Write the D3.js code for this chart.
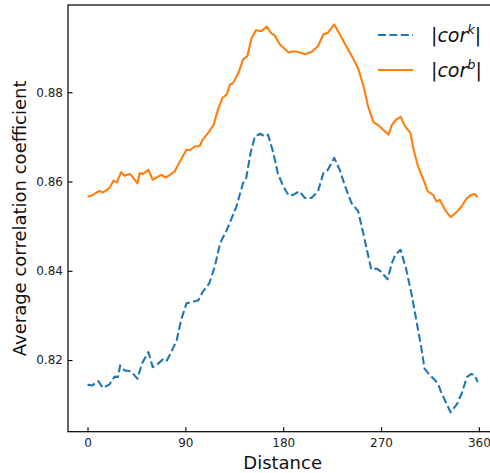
<!DOCTYPE html>
<html>
<head>
<meta charset="utf-8">
<script src="https://cdn.jsdelivr.net/npm/d3@7"></script>
<style>
  body { margin: 0; background: #fff; }
  text { font-family: "DejaVu Sans", sans-serif; }
</style>
</head>
<body>
<div id="chart"></div>
<script>
// Data
const korDist = [0,4,10,14,20,25,28,30,34,39,42,46,50,56,60,65,70,73,77,82,86,91,96,102,106,112,117,122,128,132,137,143,146,150,154,159,163,166,171,175,180,185,189,195,200,206,212,217,221,227,232,237,243,249,253,257,261,266,270,276,280,283,288,293,298,303,307,310,315,320,323,326,329,334,340,344,349,353,356,359]
const korVals = [0.8145,0.8143,0.8153,0.8138,0.8145,0.8163,0.8162,0.8188,0.8177,0.8175,0.8169,0.8158,0.8192,0.8218,0.8184,0.8192,0.8203,0.8199,0.8218,0.8244,0.8289,0.8327,0.8330,0.8334,0.8353,0.8372,0.8409,0.8462,0.8491,0.8514,0.8544,0.8596,0.8608,0.8664,0.8701,0.8707,0.8701,0.8705,0.8664,0.8619,0.8589,0.8569,0.8570,0.8578,0.8563,0.8563,0.8578,0.8619,0.8626,0.8653,0.8626,0.8589,0.8551,0.8533,0.8491,0.8447,0.8403,0.8405,0.8398,0.8381,0.8417,0.8435,0.8447,0.8405,0.8349,0.8282,0.8229,0.8181,0.8166,0.8154,0.8143,0.8124,0.8109,0.8083,0.8102,0.8124,0.8162,0.8169,0.8166,0.8151]

const borDist = [0,5,11,14,20,24,27,31,34,39,42,46,48,51,56,60,63,68,72,77,80,85,91,94,99,103,106,111,116,120,124,128,131,134,139,143,147,151,155,160,165,169,172,177,185,189,194,200,206,212,217,221,227,232,238,244,249,254,258,263,267,272,277,280,284,288,292,297,300,304,309,313,318,321,324,329,334,340,344,349,353,356,359]
const borVals = [0.8566,0.8570,0.8579,0.8575,0.8585,0.8602,0.8598,0.8621,0.8613,0.8617,0.8609,0.8596,0.8619,0.8617,0.8626,0.8604,0.8608,0.8615,0.8609,0.8617,0.8622,0.8645,0.8671,0.8670,0.8679,0.8679,0.8694,0.8709,0.8727,0.8761,0.8787,0.8795,0.8817,0.8821,0.8844,0.8873,0.8881,0.8922,0.8939,0.8937,0.8947,0.8932,0.8928,0.8907,0.8889,0.8892,0.8890,0.8885,0.8890,0.8903,0.8930,0.8933,0.8952,0.8930,0.8903,0.8877,0.8853,0.8813,0.8769,0.8733,0.8727,0.8716,0.8705,0.8727,0.8739,0.8745,0.8724,0.8709,0.8671,0.8634,0.8604,0.8578,0.8570,0.8555,0.8559,0.8536,0.8520,0.8533,0.8544,0.8563,0.8570,0.8572,0.8565]

const xTicks = [0, 90, 180, 270, 360]
const yTicks = [0.82, 0.84, 0.86, 0.88]

const series = [
  { name: "k", dist: korDist, vals: korVals, color: "#1f77b4", dash: "8,3.4" },
  { name: "b", dist: borDist, vals: borVals, color: "#ff7f0e", dash: null }
]

// Layout (the right spine sits just past the window edge, as in the reference)
const W = 490, H = 473
const plot = { left: 68, top: 5, right: 497.3, bottom: 431.7 }

const svg = d3.select("#chart").append("svg")
    .attr("width", W)
    .attr("height", H)

// Scales with matplotlib-style 5% margins
const allDist = korDist.concat(borDist)
const allVals = korVals.concat(borVals)
const [x0, x1] = d3.extent(allDist)
const [y0, y1] = d3.extent(allVals)
const xPad = (x1 - x0) * 0.05, yPad = (y1 - y0) * 0.05

const x = d3.scaleLinear()
  .domain([x0 - xPad, x1 + xPad])
  .range([plot.left, plot.right])

const y = d3.scaleLinear()
  .domain([y0 - yPad, y1 + yPad])
  .range([plot.bottom, plot.top])

// Lines
const line = d3.line()
  .x(d => x(d[0]))
  .y(d => y(d[1]))

series.forEach(s => {
  svg.append("path")
    .datum(s.dist.map((d, i) => [d, s.vals[i]]))
    .attr("fill", "none")
    .attr("stroke", s.color)
    .attr("stroke-width", 2.1)
    .attr("stroke-dasharray", s.dash)
    .attr("stroke-linejoin", "round")
    .attr("d", line)
})

// Axes, ticks pointing inward
const xAxis = svg.append("g")
  .attr("transform", `translate(0,${plot.bottom})`)
  .call(d3.axisBottom(x).tickValues(xTicks).tickSize(-4.5).tickPadding(7).tickFormat(d3.format("d")))

const yAxis = svg.append("g")
  .attr("transform", `translate(${plot.left},0)`)
  .call(d3.axisLeft(y).tickValues(yTicks).tickSize(-4.5).tickPadding(5).tickFormat(d3.format(".2f")))

;[xAxis, yAxis].forEach(g => {
  g.select(".domain").remove()
  g.selectAll(".tick line").attr("stroke", "#000").attr("stroke-width", 1.1)
  g.selectAll(".tick text")
    .attr("fill", "#222")
    .style("font-size", "12px")
    .style("font-family", "DejaVu Sans")
})

// Spines
svg.append("rect")
  .attr("x", plot.left)
  .attr("y", plot.top)
  .attr("width", plot.right - plot.left)
  .attr("height", plot.bottom - plot.top)
  .attr("fill", "none")
  .attr("stroke", "#000")
  .attr("stroke-width", 1.2)

// Axis labels
svg.append("text")
  .attr("x", (plot.left + plot.right) / 2)
  .attr("y", 469)
  .attr("text-anchor", "middle")
  .style("font-size", "18px")
  .attr("fill", "#111")
  .text("Distance")

svg.append("text")
  .attr("transform", `translate(25.5,${(plot.top + plot.bottom) / 2}) rotate(-90)`)
  .attr("text-anchor", "middle")
  .style("font-size", "18px")
  .attr("fill", "#111")
  .text("Average correlation coefficient")

// Legend
const legend = svg.append("g")
series.forEach((s, i) => {
  const ly = 35 + i * 35
  legend.append("line")
    .attr("x1", 378).attr("x2", 413)
    .attr("y1", ly).attr("y2", ly)
    .attr("stroke", s.color)
    .attr("stroke-width", 2.1)
    .attr("stroke-dasharray", s.dash)

  const t = legend.append("text")
    .attr("x", 431)
    .attr("y", ly + 6.5)
    .style("font-size", "19px")
    .attr("fill", "#111")
  t.append("tspan").text("|")
  t.append("tspan").style("font-style", "italic").text("cor")
  t.append("tspan").style("font-style", "italic").style("font-size", "13px")
    .attr("dy", -7.5).text(s.name)
  t.append("tspan").attr("dy", 7.5).text("|")
})
</script>
</body>
</html>
